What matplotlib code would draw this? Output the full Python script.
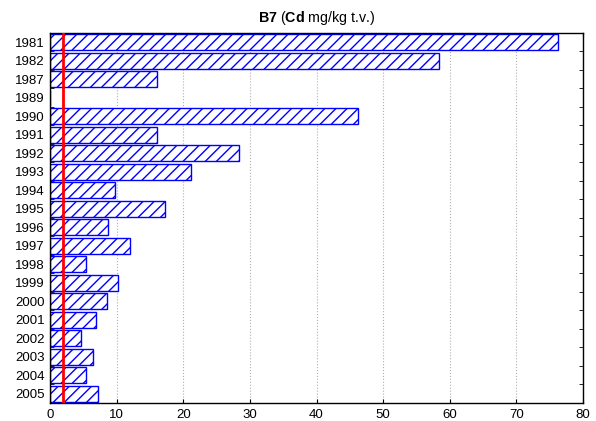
import numpy as np
import matplotlib
matplotlib.use("Agg")
import matplotlib.pyplot as plt

plt.rcParams['font.family'] = ['Liberation Sans', 'DejaVu Sans']
plt.rcParams['mathtext.fontset'] = 'custom'
plt.rcParams['mathtext.rm'] = 'Liberation Sans'
plt.rcParams['mathtext.bf'] = 'Liberation Sans:bold'
plt.rcParams['hatch.linewidth'] = 1.0

# données
annees = ['1981', '1982', '1987', '1989', '1990', '1991', '1992', '1993', '1994', '1995',
          '1996', '1997', '1998', '1999', '2000', '2001', '2002', '2003', '2004', '2005']
cd = [76.2, 58.4, 16.0, 0, 46.2, 16.0, 28.3, 21.1, 9.8, 17.2,
      8.75, 12.0, 5.35, 10.2, 8.5, 6.85, 4.7, 6.5, 5.35, 7.15]
limite = 2.0
xticks = [0, 10, 20, 30, 40, 50, 60, 70, 80]

fig = plt.figure(figsize=(5.96, 4.21), dpi=100)
ax = fig.add_axes([50/596, 1-403/421, 533/596, 370/421])

y = np.arange(len(annees))
ax.barh(y, cd, height=0.86, color='white', edgecolor='blue', hatch='///', linewidth=1.0, zorder=2)
ax.axvline(limite, color='red', linewidth=2, zorder=3)

ax.set_ylim(len(annees) - 0.5, -0.5)
ax.set_xlim(0, 80)
ax.set_yticks(y)
ax.set_yticklabels(annees)
ax.set_yticks(np.arange(len(annees) + 1) - 0.5, minor=True)
ax.set_xticks(xticks)
ax.tick_params(axis='both', which='major', labelsize=9.5, length=0, pad=4)
ax.tick_params(axis='x', which='major', top=True, direction='in', length=3)
ax.tick_params(axis='y', which='minor', left=True, right=True, direction='in', length=3)
ax.grid(axis='x', color='#b0b0b0', linestyle=':', linewidth=0.8, zorder=0)
ax.set_axisbelow(True)
for s in ax.spines.values():
    s.set_linewidth(1.0)

ax.set_title(r"$\bf{B7}$ ($\bf{Cd}$ mg/kg t.v.)", fontsize=10.3, pad=8)

fig.savefig("out.png", dpi=100)
